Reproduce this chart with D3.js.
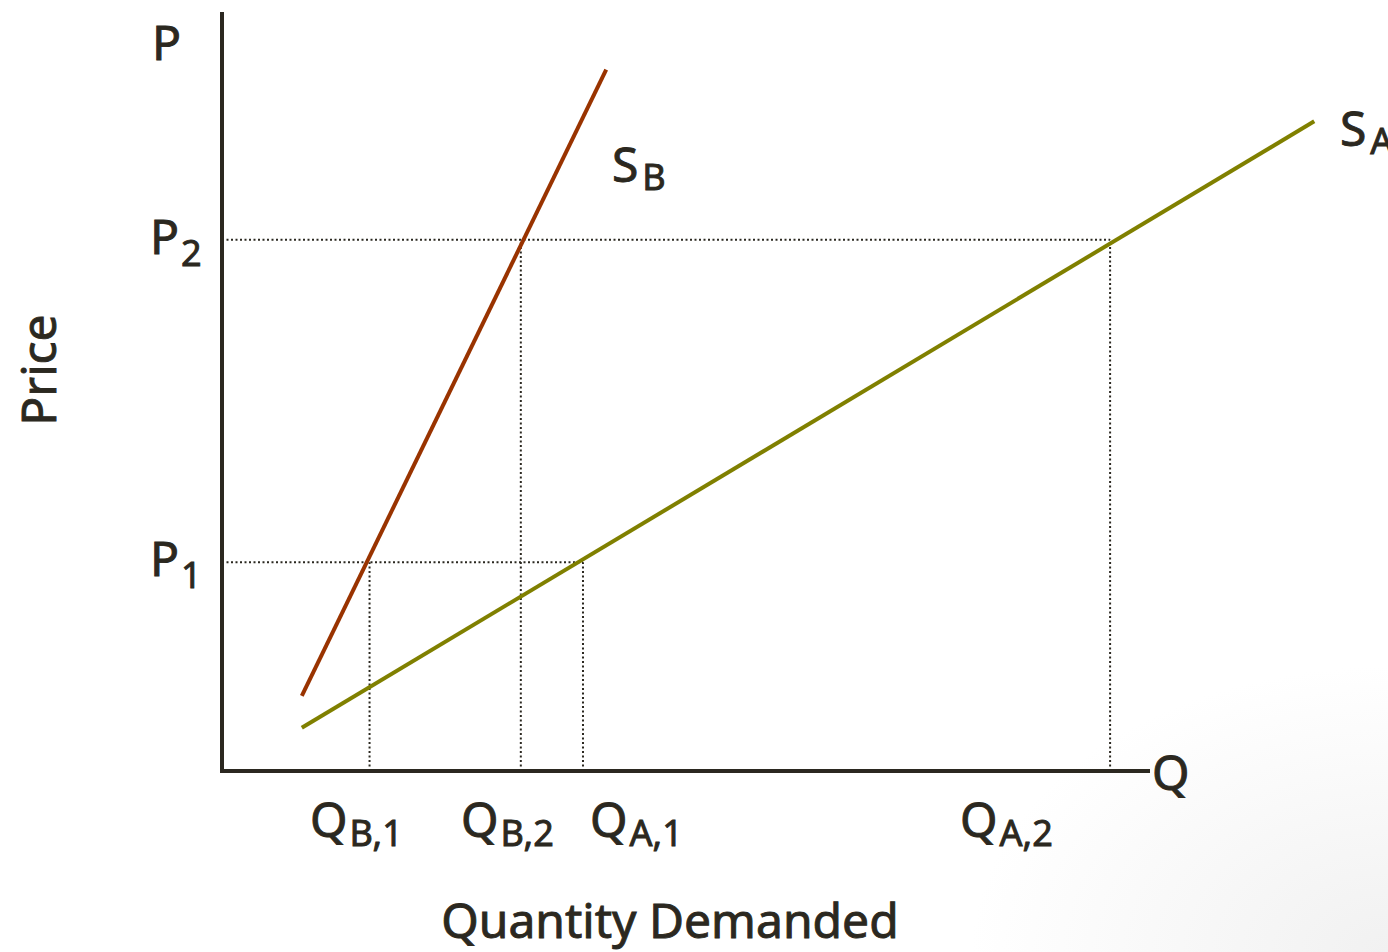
<!DOCTYPE html>
<html>
<head>
<meta charset="utf-8">
<script src="https://cdn.jsdelivr.net/npm/d3@7"></script>
<style>
  body { margin: 0; background: #fff; }
  text { font-family: "Comic Sans MS", "Noto Sans", sans-serif; fill: #2b2820; stroke: #2b2820; stroke-width: 0.9px; }
</style>
</head>
<body>
<div id="container"></div>
<script>
// supply curves (quantity, price)
const supplyB = [{ q: 8.6, p: 9.9 }, { q: 41.4, p: 92.4 }];
const supplyA = [{ q: 8.6, p: 5.7 }, { q: 117.7, p: 85.6 }];
const curveNames = ["B", "A"];

// price levels
const prices = [27.5, 70];
const priceSubs = ["1", "2"];

// quantities at each price
const quantities = [15.9, 32.2, 38.9, 95.7];
const quantityPrices = [27.5, 70, 27.5, 70];
const quantitySubs = ["B,1", "B,2", "A,1", "A,2"];

const W = 1388, H = 952;

const svg = d3.select("#container").append("svg")
  .attr("width", W)
  .attr("height", H);

// faint corner shading
const defs = svg.append("defs");
const grad = defs.append("radialGradient")
  .attr("id", "corner")
  .attr("cx", 1).attr("cy", 1).attr("r", 0.3);
grad.append("stop").attr("offset", "0%").attr("stop-color", "#f1f1f1");
grad.append("stop").attr("offset", "100%").attr("stop-color", "#ffffff");
svg.append("rect").attr("width", W).attr("height", H).attr("fill", "url(#corner)");

const xScale = d3.scaleLinear().domain([0, 100]).range([222, 1150]);
const yScale = d3.scaleLinear().domain([0, 100]).range([771, 12]);

const line = d3.line().x(d => xScale(d.q)).y(d => yScale(d.p));

// dotted guides
const dotted = svg.append("g")
  .attr("stroke", "#2b2820")
  .attr("stroke-width", 2)
  .attr("stroke-dasharray", "2,2.5");

quantities.forEach((q, i) => {
  const p = quantityPrices[i];
  dotted.append("line")
    .attr("x1", xScale(q)).attr("x2", xScale(q))
    .attr("y1", yScale(0)).attr("y2", yScale(p));
});
prices.forEach(p => {
  const qMax = d3.max(quantities.filter((q, i) => quantityPrices[i] === p));
  dotted.append("line")
    .attr("x1", xScale(0)).attr("x2", xScale(qMax))
    .attr("y1", yScale(p)).attr("y2", yScale(p));
});

// supply lines
svg.append("path")
  .datum(supplyB)
  .attr("d", line)
  .attr("fill", "none")
  .attr("stroke", "#993300")
  .attr("stroke-width", 4);

svg.append("path")
  .datum(supplyA)
  .attr("d", line)
  .attr("fill", "none")
  .attr("stroke", "#808000")
  .attr("stroke-width", 4);

// axes
svg.append("line")
  .attr("x1", xScale(0)).attr("x2", xScale(0))
  .attr("y1", yScale(100)).attr("y2", yScale(0) + 2)
  .attr("stroke", "#2b2820").attr("stroke-width", 4);
svg.append("line")
  .attr("x1", xScale(0) - 2).attr("x2", xScale(100))
  .attr("y1", yScale(0)).attr("y2", yScale(0))
  .attr("stroke", "#2b2820").attr("stroke-width", 4);

const bigSize = 48, subSize = 36;

// axis letters
svg.append("text")
  .attr("x", 152).attr("y", 60)
  .style("font-size", bigSize + "px")
  .text("P");
svg.append("text")
  .attr("x", 1152).attr("y", 790)
  .style("font-size", bigSize + "px")
  .text("Q");

// price labels
prices.forEach((p, i) => {
  const t = svg.append("text")
    .attr("x", 150).attr("y", yScale(p) + 14)
    .style("font-size", bigSize + "px");
  t.append("tspan").text("P");
  t.append("tspan").attr("dy", 12).attr("dx", 2).style("font-size", subSize + "px").text(priceSubs[i]);
});

// quantity labels
const qLabelX = [310, 461, 590, 960];
quantities.forEach((q, i) => {
  const t = svg.append("text")
    .attr("x", qLabelX[i]).attr("y", 837)
    .style("font-size", bigSize + "px");
  t.append("tspan").text("Q");
  t.append("tspan").attr("dy", 9).attr("dx", 2).style("font-size", subSize + "px").text(quantitySubs[i]);
});

// curve labels
const curveLabelPos = [[612, 182], [1340, 146]];
curveNames.forEach((n, i) => {
  const t = svg.append("text")
    .attr("x", curveLabelPos[i][0]).attr("y", curveLabelPos[i][1])
    .style("font-size", bigSize + "px");
  t.append("tspan").text("S");
  t.append("tspan").attr("dy", 8).attr("dx", 4).style("font-size", subSize + "px").text(n);
});

// axis titles
svg.append("text")
  .attr("x", 670).attr("y", 938)
  .attr("text-anchor", "middle")
  .style("font-size", bigSize + "px")
  .text("Quantity Demanded");

svg.append("text")
  .attr("transform", "translate(56, 370) rotate(-90)")
  .attr("text-anchor", "middle")
  .style("font-size", bigSize + "px")
  .text("Price");
</script>
</body>
</html>
